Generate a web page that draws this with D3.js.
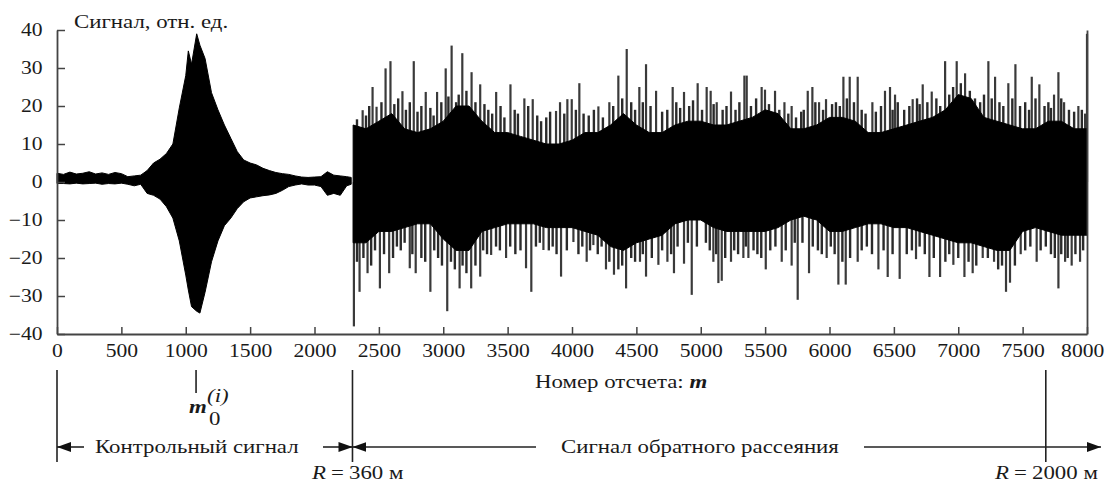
<!DOCTYPE html>
<html>
<head>
<meta charset="utf-8">
<script src="https://cdn.jsdelivr.net/npm/d3@7"></script>
<style>
  html, body { margin: 0; padding: 0; background: #fff; }
  svg text { font-family: "Liberation Serif", "Times New Roman", serif; fill: #1a1a1a; font-size: 18px; }
</style>
</head>
<body>
<svg id="chart" width="1106" height="487"></svg>
<script>
// control pulse envelope (sample number, upper, lower)
const ctrlM  = [0, 50, 100, 150, 200, 250, 300, 350, 400, 450, 500, 550, 600, 650, 700, 750, 800, 850, 900, 950, 1000, 1020, 1045, 1085, 1110, 1150, 1200, 1250, 1300, 1350, 1400, 1450, 1500, 1550, 1600, 1650, 1700, 1750, 1800, 1850, 1900, 1950, 2000, 2050, 2100, 2150, 2200, 2250, 2285];
const ctrlHi = [2.3, 2.0, 2.6, 2.1, 2.3, 2.7, 2.1, 2.4, 2.0, 2.5, 2.2, 1.4, 1.6, 1.8, 3.0, 5.0, 6.0, 7.5, 10.0, 19.5, 28.0, 34.5, 31.0, 39.0, 36.0, 32.5, 23.5, 19.0, 15.0, 11.5, 8.0, 5.8, 5.0, 4.5, 3.6, 3.0, 2.5, 2.2, 2.0, 1.6, 1.3, 1.2, 1.3, 1.4, 2.7, 1.8, 1.6, 1.4, 1.2];
const ctrlLo = [-0.4, -0.4, -0.5, -0.3, -0.5, -0.4, -0.3, -0.6, -0.4, -0.5, -0.3, -0.6, -1.0, -0.6, -3.0, -3.5, -4.5, -6.5, -9.5, -15.5, -24.5, -28.4, -32.8, -34.0, -34.5, -29.0, -21.0, -15.5, -11.5, -9.5, -7.0, -5.2, -4.2, -3.9, -3.6, -3.4, -3.0, -2.2, -1.2, -0.8, -0.5, -0.8, -0.8, -1.2, -3.5, -3.0, -3.5, -1.0, -0.6];

// backscatter dense core envelope
const scatM  = [2300, 2400, 2500, 2600, 2700, 2800, 2900, 3000, 3100, 3200, 3300, 3400, 3500, 3600, 3700, 3800, 3900, 4000, 4100, 4200, 4300, 4400, 4500, 4600, 4700, 4800, 4900, 5000, 5100, 5200, 5300, 5400, 5500, 5600, 5700, 5800, 5900, 6000, 6100, 6200, 6300, 6400, 6500, 6600, 6700, 6800, 6900, 7000, 7100, 7200, 7300, 7400, 7500, 7600, 7700, 7800, 7900, 8000];
const scatHi = [15, 14, 16, 18, 14, 13, 14, 16, 20, 20, 16, 13, 13, 12, 11, 10, 10, 11, 13, 13, 15, 18, 15, 13, 13, 15, 16, 16, 15, 15, 16, 17, 19, 18, 14, 14, 15, 17, 17, 16, 13, 13, 14, 15, 16, 17, 19, 23, 22, 17, 16, 15, 14, 14, 16, 16, 14, 14];
const scatLo = [-16, -16, -13, -13, -12, -11, -11, -15, -18, -18, -13, -12, -11, -11, -11, -12, -12, -12, -13, -14, -17, -18, -16, -15, -14, -11, -10, -10, -12, -13, -13, -13, -13, -12, -10, -9, -10, -13, -13, -12, -11, -11, -12, -12, -13, -14, -15, -16, -16, -17, -18, -18, -13, -12, -13, -14, -14, -14];

// isolated tall spikes
const upM = [2374, 2451, 2482, 2552, 2590, 2683, 2771, 2864, 2952, 3019, 3065, 3148, 3220, 3287, 3411, 3522, 3630, 3695, 3876, 3907, 3964, 3998, 4057, 4205, 4290, 4360, 4425, 4523, 4575, 4653, 4782, 4870, 4976, 5046, 5077, 5124, 5235, 5339, 5357, 5473, 5499, 5577, 5650, 5706, 5831, 5867, 5919, 5973, 6108, 6157, 6219, 6333, 6431, 6470, 6509, 6646, 6724, 6794, 6898, 6988, 7053, 7234, 7286, 7389, 7444, 7571, 7630, 7744, 7778, 7822, 7933, 7985, 8000];
const upV = [18.9, 25, 19.8, 29.9, 31.8, 23.9, 31.8, 23.7, 23.7, 29.9, 35.9, 33.9, 28.9, 25.7, 23.7, 25.7, 22, 21.8, 18.7, 21, 21.8, 21.8, 26, 19.9, 21, 28, 35, 25, 31, 24, 25, 23.7, 26, 25, 24, 21, 23.8, 28, 28, 25, 24.3, 24, 21, 20, 24, 25, 21, 21.8, 27.7, 27.7, 27.7, 21, 24, 25, 23, 21.8, 25.7, 23.8, 31.8, 31.8, 28.6, 31.8, 27.7, 26, 31, 27.7, 25.7, 23, 28.9, 21, 20, 18, 39];
const dnM = [2306, 2350, 2412, 2508, 2580, 2740, 2786, 2900, 3031, 3127, 3217, 3287, 3372, 3488, 3643, 3684, 3778, 3915, 4011, 4114, 4166, 4264, 4326, 4420, 4528, 4575, 4671, 4741, 4792, 4870, 4930, 5098, 5137, 5163, 5235, 5331, 5370, 5505, 5629, 5706, 5753, 5841, 5978, 6069, 6126, 6219, 6380, 6452, 6545, 6672, 6776, 6859, 6962, 7048, 7112, 7190, 7278, 7371, 7402, 7485, 7609, 7778, 7830, 7881, 7946];
const dnV = [-38, -28.9, -24, -28, -24, -22.7, -24, -28.9, -34, -28, -28, -24.9, -19.2, -20, -22.7, -28.9, -17.9, -24.9, -15.8, -21, -16.6, -23, -24.4, -28, -21, -24.9, -21.8, -21, -24, -21.5, -29.7, -21, -26.6, -26, -21, -20, -20, -23, -21, -22, -31, -24, -20, -27, -27, -21, -23, -25, -25.5, -20.3, -25, -25, -21.8, -25, -24, -20, -21, -28.9, -26.5, -19, -21, -28, -21, -22, -21];

// medium spikes along the edges of the dense core
const midUpM = [2330, 2400, 2425, 2520, 2620, 2650, 2710, 2740, 2800, 2830, 2900, 2925, 2985, 3040, 3100, 3120, 3180, 3250, 3320, 3350, 3380, 3445, 3475, 3555, 3580, 3660, 3730, 3760, 3800, 3830, 3940, 4030, 4090, 4130, 4170, 4240, 4320, 4390, 4460, 4490, 4550, 4610, 4700, 4740, 4810, 4840, 4910, 4940, 5010, 5100, 5170, 5200, 5270, 5300, 5390, 5430, 5530, 5610, 5680, 5740, 5780, 5800, 5890, 5950, 6020, 6050, 6080, 6135, 6190, 6250, 6280, 6360, 6400, 6490, 6530, 6580, 6620, 6680, 6700, 6760, 6830, 6860, 6930, 6960, 7020, 7090, 7130, 7170, 7200, 7260, 7320, 7350, 7420, 7480, 7520, 7550, 7600, 7670, 7700, 7720, 7800, 7860, 7900, 7960];
const midUpV = [16.5, 17.5, 20, 21, 20.5, 22, 19, 21, 18.5, 20, 19.5, 17.5, 21, 22.5, 21, 23, 24, 21, 20.5, 19, 18, 20, 17, 19, 18, 20, 17.5, 16, 17, 18.5, 18, 19, 18, 17.5, 19, 17, 20, 22, 21, 19, 21, 20, 18.5, 19, 21, 19.5, 20, 21.5, 19, 20.5, 19, 20, 19, 21, 20, 22, 20.5, 19, 18, 17, 18.5, 19, 21, 19, 20.5, 21, 20, 22, 21, 19, 18, 18.5, 20, 19, 21, 19, 20, 22, 20.5, 21, 22, 20, 23, 25, 26, 24, 22, 21, 23, 22, 21, 20, 22, 20, 21, 19, 22, 20, 21, 19.5, 22, 19, 18.5, 19];
const midDnM = [2330, 2380, 2440, 2470, 2540, 2610, 2640, 2670, 2700, 2760, 2830, 2860, 2930, 2960, 2990, 3060, 3090, 3150, 3180, 3250, 3310, 3340, 3410, 3440, 3520, 3560, 3600, 3720, 3750, 3820, 3850, 3880, 3960, 4050, 4080, 4140, 4200, 4230, 4290, 4360, 4390, 4460, 4490, 4550, 4620, 4700, 4770, 4820, 4900, 4970, 5040, 5070, 5120, 5190, 5260, 5290, 5350, 5410, 5440, 5470, 5540, 5580, 5660, 5730, 5790, 5870, 5910, 5940, 6010, 6040, 6100, 6160, 6250, 6290, 6330, 6420, 6490, 6600, 6640, 6700, 6740, 6810, 6900, 6930, 7000, 7080, 7140, 7230, 7310, 7340, 7440, 7520, 7560, 7640, 7680, 7720, 7750, 7800, 7850, 7910, 7970];
const midDnV = [-21, -20, -22, -18, -19, -20, -17, -18, -16, -19, -20, -21, -18, -20, -22, -21, -23, -22, -24, -22, -18, -19, -17, -18, -17, -19, -18, -17, -16, -18, -17, -19, -18, -19, -17, -18, -19, -17, -21, -23, -22, -20, -21, -19, -20, -18, -19, -17, -16, -17, -16, -18, -19, -20, -18, -19, -17, -18, -19, -20, -18, -17, -18, -16, -16, -17, -18, -19, -17, -19, -21, -20, -18, -17, -19, -18, -19, -19, -18, -17, -19, -20, -21, -19, -20, -21, -22, -20, -23, -22, -22, -18, -17, -18, -17, -19, -20, -19, -20, -19, -18];

// axis ticks and annotation marks (sample numbers)
const yTicks = [-40, -30, -20, -10, 0, 10, 20, 30, 40];
const xTicks = [0, 500, 1000, 1500, 2000, 2500, 3000, 3500, 4000, 4500, 5000, 5500, 6000, 6500, 7000, 7500, 8000];
const markM = [0, 2295, 7680];
const m0 = 1080;

const SX = 1.27; // glyphs in the source are widened horizontally

const svg = d3.select('#chart');
const x = d3.scaleLinear().domain([0, 8000]).range([57, 1087]);
const y = d3.scaleLinear().domain([-40, 40]).range([334, 30]);

const ctrl = ctrlM.map((m, i) => ({ m, hi: ctrlHi[i], lo: ctrlLo[i] }));
const scat = scatM.map((m, i) => ({ m, hi: scatHi[i], lo: scatLo[i] }));
const spikes = upM.map((m, i) => ({ m, v: upV[i] }))
  .concat(dnM.map((m, i) => ({ m, v: dnV[i] })));
const midSpikes = midUpM.map((m, i) => ({ m, v: midUpV[i] }))
  .concat(midDnM.map((m, i) => ({ m, v: midDnV[i] })));

const area = d3.area()
  .x(d => x(d.m))
  .y0(d => y(d.lo))
  .y1(d => y(d.hi));

// signal: spikes first, dense core on top
svg.selectAll('.mid')
  .data(midSpikes)
  .enter()
  .append('line')
  .attr('class', 'mid')
  .attr('x1', d => x(d.m)).attr('x2', d => x(d.m))
  .attr('y1', y(0)).attr('y2', d => y(d.v))
  .attr('stroke', '#2a2a2a')
  .attr('stroke-width', 2.4);

svg.selectAll('.spike')
  .data(spikes)
  .enter()
  .append('line')
  .attr('class', 'spike')
  .attr('x1', d => x(d.m)).attr('x2', d => x(d.m))
  .attr('y1', y(0)).attr('y2', d => y(d.v))
  .attr('stroke', '#3a3a3a')
  .attr('stroke-width', 2.2);

svg.append('path').datum(ctrl).attr('d', area).attr('fill', '#000')
  .attr('stroke', '#000').attr('stroke-width', 1);
svg.append('path').datum(scat).attr('d', area).attr('fill', '#000')
  .attr('stroke', '#000').attr('stroke-width', 1);

// axes
const styleAxis = g => {
  g.select('.domain').attr('stroke', '#444').attr('stroke-width', 1.8);
  g.selectAll('.tick line').attr('stroke', '#444').attr('stroke-width', 1.5);
  g.selectAll('.tick text').attr('font-size', 18).attr('fill', '#1a1a1a')
    .attr('font-family', '"Liberation Serif", serif')
    .attr('transform', 'scale(1.2,1)');
};

svg.append('g')
  .attr('transform', `translate(${x(0)},0)`)
  .call(d3.axisLeft(y).tickValues(yTicks).tickSizeInner(-8).tickSizeOuter(0).tickPadding(12))
  .call(styleAxis);

const xAxis = svg.append('g')
  .attr('transform', `translate(0,${y(-40)})`)
  .call(d3.axisBottom(x).tickValues(xTicks).tickFormat(d3.format('d')).tickSizeInner(-7).tickSizeOuter(0).tickPadding(10))
  .call(styleAxis);
// last label sits inside the page edge
xAxis.selectAll('.tick text').filter(d => d === 8000)
  .attr('text-anchor', 'end').attr('x', 14);

svg.append('g')
  .attr('transform', `translate(${x(8000)},0)`)
  .call(d3.axisRight(y).tickValues([]).tickSizeOuter(0))
  .call(styleAxis);

// text helper
const label = (tx, ty, size) => svg.append('text')
  .attr('transform', `translate(${tx},${ty}) scale(${SX},1)`)
  .attr('font-size', size || 18);

label(74, 28).text('Сигнал, отн. ед.');

const xl = label(535, 388);
xl.append('tspan').text('Номер отсчета: ');
xl.append('tspan').attr('font-style', 'italic').attr('font-weight', 'bold').text('m');

// annotation lines
const annY = [370, 462];
svg.selectAll('.mark')
  .data(markM)
  .enter()
  .append('line')
  .attr('x1', d => x(d)).attr('x2', d => x(d))
  .attr('y1', annY[0]).attr('y2', annY[1])
  .attr('stroke', '#222').attr('stroke-width', 1.6);

svg.append('line')
  .attr('x1', x(m0)).attr('x2', x(m0))
  .attr('y1', 370).attr('y2', 393)
  .attr('stroke', '#222').attr('stroke-width', 1.6);

const ml = label(x(m0) - 7, 413);
ml.append('tspan').attr('font-style', 'italic').attr('font-weight', 'bold').text('m');
svg.append('text').attr('transform', `translate(${x(m0) + 11},402) scale(${SX},1)`)
  .attr('font-size', 13).attr('font-style', 'italic').text('(i)');
svg.append('text').attr('transform', `translate(${x(m0) + 13},425) scale(${SX},1)`)
  .attr('font-size', 13).text('0');

// arrows
const defs = svg.append('defs');
defs.append('marker')
  .attr('id', 'ah')
  .attr('viewBox', '0 0 14 10')
  .attr('refX', 14).attr('refY', 5)
  .attr('markerWidth', 14).attr('markerHeight', 10)
  .attr('markerUnits', 'userSpaceOnUse')
  .attr('orient', 'auto-start-reverse')
  .append('path').attr('d', 'M0,0 L14,5 L0,10 Z').attr('fill', '#111');

const arrowY = 447;
const arrow = (x1, x2, start, end) => {
  const l = svg.append('line')
    .attr('x1', x1).attr('x2', x2)
    .attr('y1', arrowY).attr('y2', arrowY)
    .attr('stroke', '#222').attr('stroke-width', 1.6);
  if (start) l.attr('marker-start', 'url(#ah)');
  if (end) l.attr('marker-end', 'url(#ah)');
};
arrow(x(markM[0]), 84, true, false);
arrow(323, x(markM[1]), false, true);
arrow(x(markM[1]), 536, true, false);
arrow(864, 1101, false, true);

label(95, 453).text('Контрольный сигнал');
label(561, 453).text('Сигнал обратного рассеяния');

const rLabel = (tx, txt) => {
  const t = label(tx, 479);
  t.append('tspan').attr('font-style', 'italic').text('R');
  t.append('tspan').attr('dx', 4).text('=');
  t.append('tspan').attr('dx', 4).text(txt);
};
rLabel(312, '360 м');
rLabel(995, '2000 м');
</script>
</body>
</html>
